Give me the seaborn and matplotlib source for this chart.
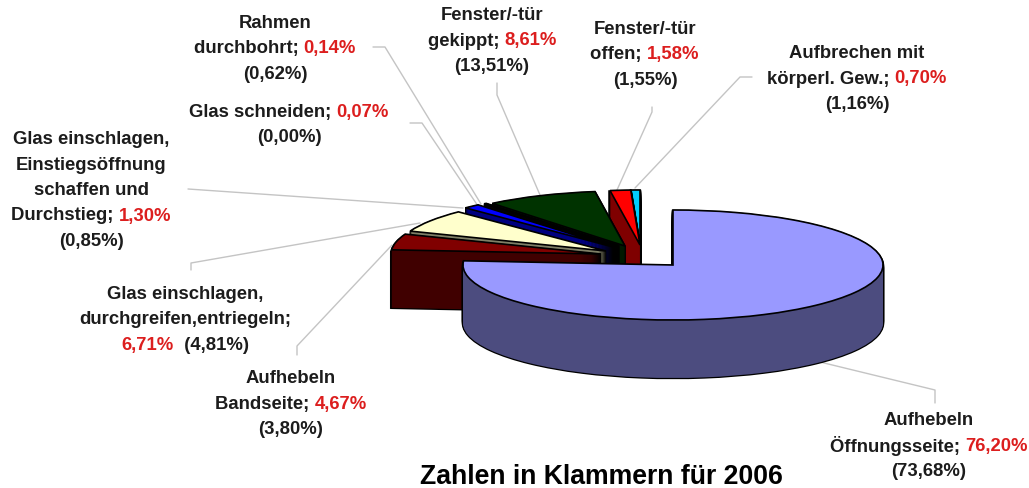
import matplotlib
matplotlib.use('Agg')
import matplotlib.pyplot as plt
from matplotlib.patches import Wedge
import seaborn as sns

# Data, clockwise from 12 o'clock
values_2007 = [76.20, 4.67, 6.71, 1.30, 0.07, 0.14, 8.61, 1.58, 0.70]
values_2006 = [73.68, 3.80, 4.81, 0.85, 0.00, 0.62, 13.51, 1.55, 1.16]
names = [["Aufhebeln", "Öffnungsseite;"],
         ["Aufhebeln", "Bandseite;"],
         ["Glas einschlagen,", "durchgreifen,entriegeln;"],
         ["Glas einschlagen,", "Einstiegsöffnung", "schaffen und", "Durchstieg;"],
         ["Glas schneiden;"],
         ["Rahmen", "durchbohrt;"],
         ["Fenster/-tür", "gekippt;"],
         ["Fenster/-tür", "offen;"],
         ["Aufbrechen mit", "körperl. Gew.;"]]
top_colors = ["#9999FF", "#800000", "#FFFFCC", "#0000FF", "#1a001a",
              "#000030", "#003300", "#FF0000", "#00CCFF"]
side_colors = ["#4C4C7F", "#400000", "#7F7F66", "#00007F", "#100010",
               "#000020", "#001900", "#7F0000", "#006680"]
note = "Zahlen in Klammern für 2006"

# Layout in image pixels
W, H = 1029, 488
RX, RY, DEPTH = 210, 55, 58
apex = [(673, 265), (601, 254), (606, 251), (613, 247), (619, 246),
        (619, 246), (625, 246), (640, 245), (640, 245)]
draw_order = [8, 7, 6, 5, 4, 3, 2, 1, 0]
label_x = [929, 291, 185, 91, 289, 275, 492, 645, 857]
label_y = [420.5, 378.5, 294.5, 139.5, 112.5, 23.5, 15.5, 29.5, 53.5]
leaders = [[(820, 362), (935, 390), (935, 403)],
           [(297, 355), (297, 346), (392, 245)],
           [(191, 270), (191, 263), (420, 223)],
           [(188, 189), (463, 208)],
           [(410, 123), (422, 123), (478, 206)],
           [(373, 47), (385, 47), (481, 204)],
           [(497, 83), (497, 95), (540, 195)],
           [(652, 107), (652, 112), (617, 190)],
           [(752, 77), (740, 77), (635, 188)]]

K = RY / RX


def py(y):
    return (H - y) / K


def pct(v):
    return f"{v:.2f}".replace(".", ",") + "%"


sns.set_theme(style="white")
plt.rcParams['font.family'] = ['Liberation Sans', 'DejaVu Sans']
fig, ax = plt.subplots(figsize=(W / 100, H / 100), dpi=100)
fig.subplots_adjust(0, 0, 1, 1)

wedges, _ = ax.pie(values_2007, radius=RX, startangle=90, counterclock=False,
                   colors=top_colors, wedgeprops=dict(edgecolor="black", linewidth=1.2))
ax.set_aspect('auto')
ax.set_xlim(0, W)
ax.set_ylim(0, H / K)
ax.axis('off')

# Leader lines below the pie
for pts in leaders:
    ax.plot([p[0] for p in pts], [py(p[1]) for p in pts], color="#c4c4c4", lw=1, zorder=1)

# Painter's order, back slices first; walls are stacked copies of the wedge
z = 2
for i in draw_order:
    w = wedges[i]
    cx, cy = apex[i]
    for edge in (True, False):
        for d in range(DEPTH, 0, -1):
            ax.add_patch(Wedge((cx, py(cy + d)), RX, w.theta1, w.theta2,
                               facecolor="black" if edge else side_colors[i],
                               edgecolor="black" if edge else side_colors[i],
                               linewidth=1.8 if edge else 0.0, zorder=z))
        z += 1
    w.set_center((cx, py(cy)))
    w.set_zorder(z)
    z += 1

# Labels with a red number on the last named line
FS = 13.3
DARK = "#1c1c1c"
RED = "#dc1e1e"
fig.canvas.draw()
rend = fig.canvas.get_renderer()


def width(s):
    t = ax.text(0, 0, s + "|", fontsize=FS, fontweight="bold")
    b = ax.text(0, 0, "|", fontsize=FS, fontweight="bold")
    out = t.get_window_extent(rend).width - b.get_window_extent(rend).width
    t.remove()
    b.remove()
    return out


def line(xc, y, parts):
    total = sum(width(s) for s, _ in parts)
    x = xc - total / 2
    for s, col in parts:
        ax.text(x, py(y), s, color=col, fontsize=FS, fontweight="bold",
                ha="left", va="center", zorder=50)
        x += width(s)


for i, name in enumerate(names):
    y = label_y[i]
    step = 25.5
    for n in name[:-1]:
        line(label_x[i], y, [(n, DARK)])
        y += step
    if i == 2:
        line(label_x[i], y, [(name[-1], DARK)])
        line(label_x[i], y + step, [(pct(values_2007[i]), RED),
                                    ("  (" + pct(values_2006[i]) + ")", DARK)])
        continue
    line(label_x[i], y, [(name[-1] + " ", DARK), (pct(values_2007[i]), RED)])
    line(label_x[i], y + step, [("(" + pct(values_2006[i]) + ")", DARK)])

ax.text(601, py(477), note, color="black", fontsize=19.2, fontweight="bold",
        ha="center", va="center", zorder=50)

fig.savefig("out.png", dpi=100, facecolor="white")
plt.close(fig)
